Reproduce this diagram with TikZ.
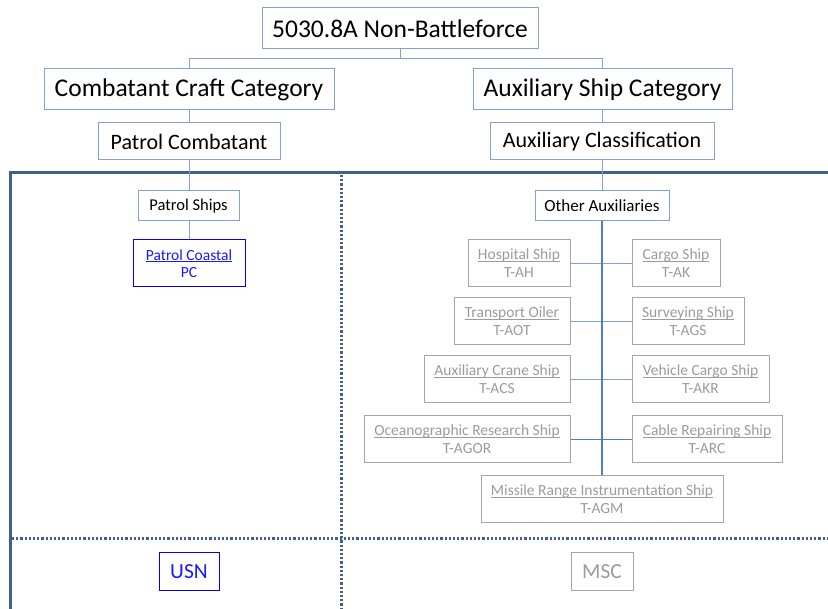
\documentclass[tikz,border=0pt]{standalone}
\usepackage{fontspec}
\setmainfont{Carlito}
\definecolor{bxblue}{HTML}{7FA4D4}
\definecolor{lnblue}{HTML}{7FA4D4}
\definecolor{trunk}{HTML}{4F7FBF}
\definecolor{frame}{HTML}{3F5F8C}
\definecolor{greyc}{HTML}{A6A6A6}
\definecolor{greyt}{HTML}{9C9C9C}
\definecolor{linkblue}{HTML}{1A1AFF}
\newcommand\ulbox[1]{\setbox0=\hbox{#1}\rlap{\rule[-0.13em]{\wd0}{0.065em}}\box0}
\tikzset{
  box/.style={draw=bxblue, line width=1pt, inner sep=0pt, align=center, fill=white},
  greybox/.style={draw=greyc, line width=1pt, inner sep=0pt, align=center, fill=white, text=greyt,
     font=\fontsize{15.5}{18}\selectfont},
  bluebox/.style={draw=blue, line width=1pt, inner sep=0pt, align=center, fill=white, text=linkblue},
  conn/.style={draw=lnblue, line width=1pt},
  framel/.style={draw=frame, line width=3pt},
  dotl/.style={draw=frame, line width=3pt, dash pattern=on 2.2pt off 2pt},
}
\begin{document}
\begin{tikzpicture}[x=1pt,y=-1pt]
\useasboundingbox[fill=white] (0,0) rectangle (828,609);
% frame and dotted dividers
\draw[framel] (10,609) -- (10,173) -- (828,173);
\draw[dotl] (341,175) -- (341,609);
\draw[dotl] (12,539) -- (828,539);
% upper hierarchy
\node[box, minimum width=276, minimum height=41, font=\fontsize{25.5}{30}\selectfont] (top) at (400,28.5) {5030.8A Non-Battleforce};
\node[box, minimum width=290, minimum height=41, font=\fontsize{25.5}{30}\selectfont] (ccc) at (189,89.5) {Combatant Craft Category};
\node[box, minimum width=259, minimum height=41, font=\fontsize{25.5}{30}\selectfont] (asc) at (602.5,89.5) {Auxiliary Ship Category};
\node[box, minimum width=182, minimum height=37, font=\fontsize{22}{26}\selectfont] (pcomb) at (189,141.5) {Patrol Combatant};
\node[box, minimum width=224, minimum height=37, font=\fontsize{22}{26}\selectfont] (aclass) at (602,141.5) {Auxiliary Classification};
\coordinate (split) at (400,59);
\draw[conn] (top.south) -- (split);
\draw[conn] (split -| ccc.north) -- (split -| asc.north);
\draw[conn] (split -| ccc.north) -- (ccc.north);
\draw[conn] (split -| asc.north) -- (asc.north);
\draw[conn] (ccc.south) -- (pcomb.north);
\draw[conn] (asc.south -| aclass.north) -- (aclass.north);
% left column
\node[box, minimum width=101, minimum height=30, font=\fontsize{16.5}{19}\selectfont] (pships) at (188.5,206) {Patrol Ships};
\node[bluebox, minimum width=112, minimum height=47, font=\fontsize{15.5}{17}\selectfont] (pcoast) at (189,263.5) {\ulbox{Patrol Coastal}\\PC};
\draw[conn] (pcomb.south) -- (pcomb.south |- pships.north);
\draw[conn] (pships.south -| pcoast.north) -- (pcoast.north);
% right column
\node[box, minimum width=134, minimum height=30, font=\fontsize{17}{19}\selectfont] (other) at (602,206) {Other Auxiliaries};
\draw[conn] (aclass.south) -- (other.north);
\node[greybox, minimum width=102, minimum height=47] (hosp) at (519,263.5) {\ulbox{Hospital Ship}\\T-AH};
\node[greybox, minimum width=88, minimum height=47] (cargo) at (676,263.5) {\ulbox{Cargo Ship}\\T-AK};
\node[greybox, minimum width=116, minimum height=47] (trans) at (512,321.5) {\ulbox{Transport Oiler}\\T-AOT};
\node[greybox, minimum width=112, minimum height=47] (surv) at (688,321.5) {\ulbox{Surveying Ship}\\T-AGS};
\node[greybox, minimum width=146, minimum height=47] (crane) at (497,379.5) {\ulbox{Auxiliary Crane Ship}\\T-ACS};
\node[greybox, minimum width=137, minimum height=47] (vehicle) at (700.5,379.5) {\ulbox{Vehicle Cargo Ship}\\T-AKR};
\node[greybox, minimum width=206, minimum height=47] (ocean) at (467,439.5) {\ulbox{Oceanographic Research Ship}\\T-AGOR};
\node[greybox, minimum width=150, minimum height=47] (cable) at (707,439.5) {\ulbox{Cable Repairing Ship}\\T-ARC};
\node[greybox, minimum width=242, minimum height=47] (missile) at (602,499.5) {\ulbox{Missile Range Instrumentation Ship}\\T-AGM};
\draw[conn] (hosp.east) -- (cargo.west);
\draw[conn] (trans.east) -- (surv.west);
\draw[conn] (crane.east) -- (vehicle.west);
\draw[conn, draw=trunk] (ocean.east) -- (cable.west);
\draw[draw=trunk, line width=2pt] (other.south) -- (missile.north);
% bottom labels
\node[bluebox, minimum width=60, minimum height=37, font=\fontsize{21.5}{24}\selectfont] (usn) at (189,571.5) {USN};
\node[greybox, minimum width=62, minimum height=37, font=\fontsize{21.5}{24}\selectfont] (msc) at (602,571.5) {MSC};
\end{tikzpicture}
\end{document}
